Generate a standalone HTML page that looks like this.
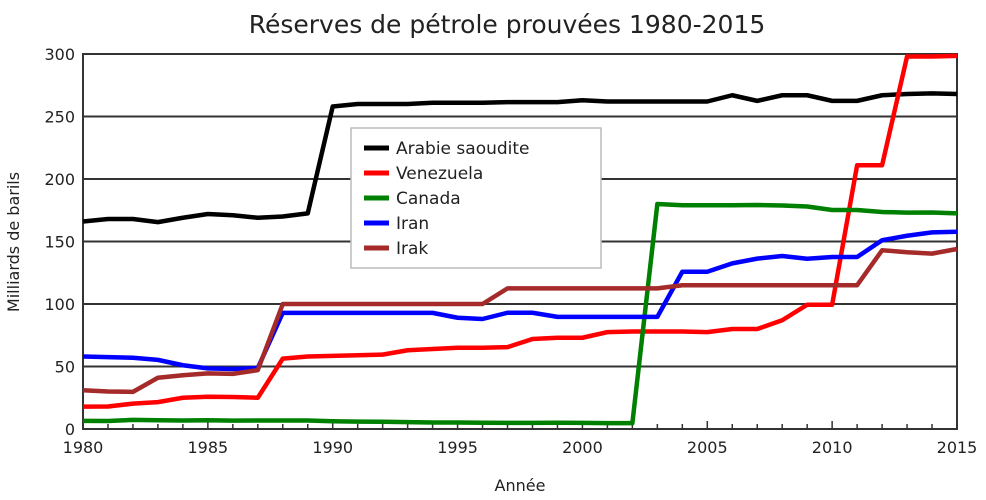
<!DOCTYPE html>
<html><head><meta charset="utf-8"><style>
body{margin:0;background:#fff;font-family:"Liberation Sans","DejaVu Sans",sans-serif}
svg text{font-family:"DejaVu Sans","Liberation Sans",sans-serif;fill:#222}
</style></head><body>
<svg id="c" width="986" height="495" xmlns="http://www.w3.org/2000/svg">
<rect width="986" height="495" fill="#fff"/>
<text x="507" y="33" font-size="25" text-anchor="middle">Réserves de pétrole prouvées 1980-2015</text>
<text x="520" y="491" font-size="16" text-anchor="middle">Année</text>
<text transform="translate(19,242) rotate(-90)" font-size="16" text-anchor="middle">Milliards de barils</text>
<g id="grid"></g><g id="series"></g><g id="legend"></g>
</svg>
<script>
const years=[];for(let y=1980;y<=2015;y++)years.push(y);
const xTicks=[1980,1985,1990,1995,2000,2005,2010,2015];
const yTicks=[0,50,100,150,200,250,300];
const seriesNames=["Arabie saoudite","Venezuela","Canada","Iran","Irak"];
const seriesColors=["#000000","#ff0000","#008000","#0000ff","#a52a2a"];
const saudi=[166,168,168,165.5,169,172,171,169,170,172.5,258,260,260,260,261,261,261,261.5,261.5,261.5,263,262,262,262,262,262,267,262.5,267,267,262.5,262.5,267,268,268.5,268];
const venezuela=[17.9,18,20.3,21.5,25,25.8,25.6,25,56.3,58,58.5,59,59.5,63,64,65,65,65.5,72,73,73,77.5,78,78,78,77.5,80,80,87,99.4,99.4,211,211,298,298,298.5];
const canada=[6.5,6.4,7.3,7,6.8,7,6.7,6.8,6.8,6.8,6.2,5.9,5.8,5.5,5.2,5.2,5,4.9,4.9,5,4.9,4.7,4.7,180,179,179,179,179.2,178.8,178,175.2,175.2,173.6,173.1,173.2,172.5];
const iran=[58,57.5,57,55.3,51,48.5,48,48.8,92.9,92.9,92.9,92.9,92.9,92.9,92.9,89,88,93,93,89.7,89.7,89.7,89.7,89.7,125.8,125.8,132.5,136.3,138.4,136.2,137.6,137.6,151,154.6,157.3,157.8];
const irak=[31,30,29.7,41,43,44.5,44.1,47.1,100,100,100,100,100,100,100,100,100,112.5,112.5,112.5,112.5,112.5,112.5,112.5,115,115,115,115,115,115,115,115,143,141.4,140.3,144];
const allSeries=[saudi,venezuela,canada,iran,irak];
const X0=83,X1=957,Y0=429,Y1=54;
const xs=v=>X0+(v-1980)/(2015-1980)*(X1-X0);
const ys=v=>Y0-v/300*(Y0-Y1);
const NS="http://www.w3.org/2000/svg";
function mk(t,a,p){const e=document.createElementNS(NS,t);for(const k in a)e.setAttribute(k,a[k]);p.appendChild(e);return e;}
const g=document.getElementById('grid');
yTicks.forEach(t=>{
 const l=mk('line',{x1:X0,x2:X1,y1:ys(t),y2:ys(t),stroke:'#333','stroke-width':2},g);
 
 
 const tx=mk('text',{x:X0-8,y:ys(t)+6,'font-size':16,'text-anchor':'end'},g);tx.textContent=t;
 
 
});
for(let y=1980;y<=2015;y++){const l=mk('line',{x1:xs(y),x2:xs(y),y1:Y0,y2:Y0-(y%5?5:8),stroke:'#333','stroke-width':1.5},g);
 
 }
xTicks.forEach(t=>{const tx=mk('text',{x:xs(t),y:Y0+24,'font-size':16,'text-anchor':'middle'},g);tx.textContent=t;
 
 });
const fr=mk('rect',{x:X0,y:Y1,width:X1-X0,height:Y0-Y1,fill:'none',stroke:'#333','stroke-width':2},g);


const s=document.getElementById('series');
allSeries.forEach((d,i)=>{
 const p=mk('polyline',{points:d.map((v,j)=>xs(years[j])+','+ys(v)).join(' '),fill:'none',stroke:seriesColors[i],'stroke-width':4.5,'stroke-linejoin':'round'},s);
 
 
});
const lg=document.getElementById('legend');
const lb=mk('rect',{x:351,y:128,width:250,height:140,fill:'#fff',stroke:'#bbb','stroke-width':1.5},lg);


seriesNames.forEach((n,i)=>{const y=148+i*25;
 const l=mk('line',{x1:364,x2:389,y1:y,y2:y,stroke:seriesColors[i],'stroke-width':5},lg);
 
 
 const t=mk('text',{x:396,y:y+6,'font-size':17},lg);t.textContent=n;
 
 
});
</script>
</body></html>
